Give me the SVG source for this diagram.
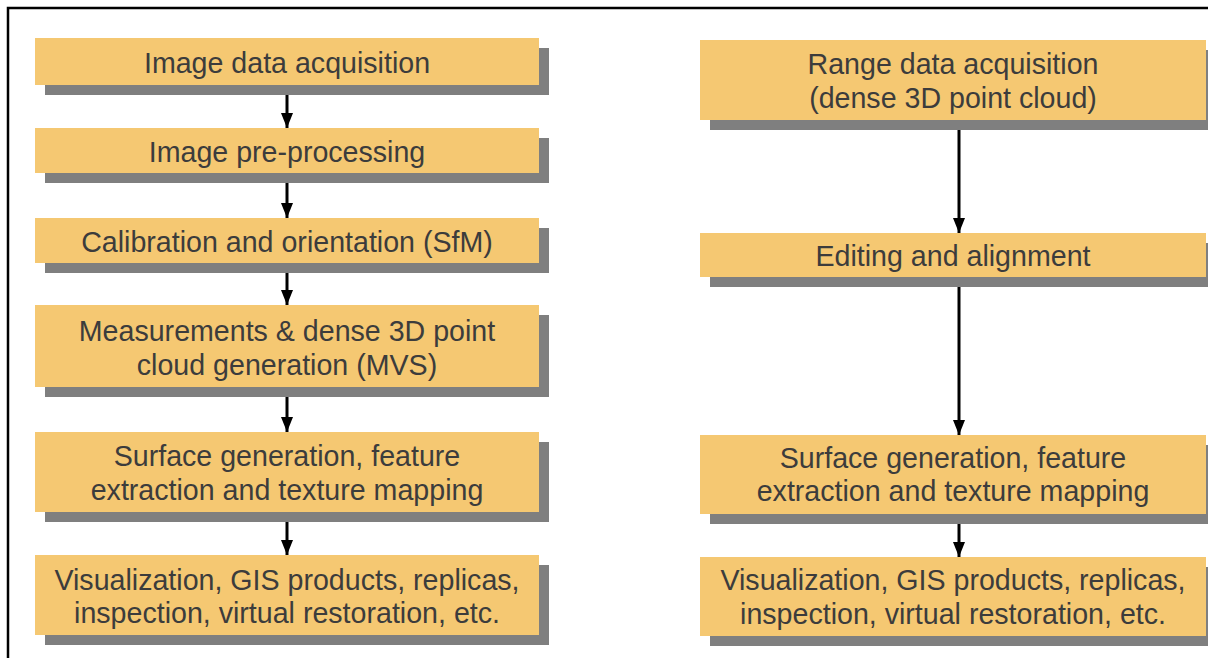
<svg xmlns="http://www.w3.org/2000/svg" width="1208" height="658" viewBox="0 0 1208 658">
  <defs>
    <style>
      .box { fill: #F5C872; }
      .shadow { fill: #7F7F7F; }
      .label { font-family: "Liberation Sans", Arial, sans-serif; font-size: 28.6px; fill: #3C3C3C; text-anchor: middle; }
      .link { stroke: #000; stroke-width: 3; fill: none; }
    </style>
    <marker id="arrow" markerUnits="userSpaceOnUse" markerWidth="15" markerHeight="12" viewBox="0 0 15 12" refX="15" refY="6" orient="auto">
      <path d="M0,0 L15,6 L0,12 Z" fill="#000"/>
    </marker>
  </defs>

  <rect width="1208" height="658" fill="#fff"/>
  <!-- outer frame -->
  <path d="M8,658 V8 H1208" fill="none" stroke="#000" stroke-width="2.5"/>

  <!-- photogrammetry pipeline -->
  <g id="img-acq">
    <rect class="shadow" x="45" y="48" width="504" height="47"/>
    <rect class="box" x="35" y="38" width="504" height="47"/>
    <text class="label" x="287" y="73">Image data acquisition</text>
  </g>
  <g id="img-pre">
    <rect class="shadow" x="45" y="138" width="504" height="45"/>
    <rect class="box" x="35" y="128" width="504" height="45"/>
    <text class="label" x="287" y="162">Image pre-processing</text>
  </g>
  <g id="calib">
    <rect class="shadow" x="45" y="228" width="504" height="45"/>
    <rect class="box" x="35" y="218" width="504" height="45"/>
    <text class="label" x="287" y="252">Calibration and orientation (SfM)</text>
  </g>
  <g id="mvs">
    <rect class="shadow" x="45" y="315" width="504" height="82"/>
    <rect class="box" x="35" y="305" width="504" height="82"/>
    <text class="label" x="287" y="341">Measurements &amp; dense 3D point</text>
    <text class="label" x="287" y="375">cloud generation (MVS)</text>
  </g>
  <g id="surface-left">
    <rect class="shadow" x="45" y="442" width="504" height="80"/>
    <rect class="box" x="35" y="432" width="504" height="80"/>
    <text class="label" x="287" y="466">Surface generation, feature</text>
    <text class="label" x="287" y="500">extraction and texture mapping</text>
  </g>
  <g id="products-left">
    <rect class="shadow" x="45" y="565" width="504" height="80"/>
    <rect class="box" x="35" y="555" width="504" height="80"/>
    <text class="label" x="287" y="590">Visualization, GIS products, replicas,</text>
    <text class="label" x="287" y="623">inspection, virtual restoration, etc.</text>
  </g>

  <!-- range-based pipeline -->
  <g id="range-acq">
    <rect class="shadow" x="710" y="50" width="506" height="80"/>
    <rect class="box" x="700" y="40" width="506" height="80"/>
    <text class="label" x="953" y="74">Range data acquisition</text>
    <text class="label" x="953" y="108">(dense 3D point cloud)</text>
  </g>
  <g id="editing">
    <rect class="shadow" x="710" y="243" width="506" height="44"/>
    <rect class="box" x="700" y="233" width="506" height="44"/>
    <text class="label" x="953" y="266">Editing and alignment</text>
  </g>
  <g id="surface-right">
    <rect class="shadow" x="710" y="445" width="506" height="79"/>
    <rect class="box" x="700" y="435" width="506" height="79"/>
    <text class="label" x="953" y="468">Surface generation, feature</text>
    <text class="label" x="953" y="501">extraction and texture mapping</text>
  </g>
  <g id="products-right">
    <rect class="shadow" x="710" y="567" width="506" height="79"/>
    <rect class="box" x="700" y="557" width="506" height="79"/>
    <text class="label" x="953" y="590">Visualization, GIS products, replicas,</text>
    <text class="label" x="953" y="624">inspection, virtual restoration, etc.</text>
  </g>

  <!-- connectors -->
  <g id="connectors">
    <line class="link" x1="287" y1="95" x2="287" y2="128" marker-end="url(#arrow)"/>
    <line class="link" x1="287" y1="183" x2="287" y2="218" marker-end="url(#arrow)"/>
    <line class="link" x1="287" y1="273" x2="287" y2="305" marker-end="url(#arrow)"/>
    <line class="link" x1="287" y1="397" x2="287" y2="432" marker-end="url(#arrow)"/>
    <line class="link" x1="287" y1="522" x2="287" y2="555" marker-end="url(#arrow)"/>
    <line class="link" x1="959" y1="130" x2="959" y2="233" marker-end="url(#arrow)"/>
    <line class="link" x1="959" y1="287" x2="959" y2="435" marker-end="url(#arrow)"/>
    <line class="link" x1="959" y1="524" x2="959" y2="557" marker-end="url(#arrow)"/>
  </g>
</svg>
